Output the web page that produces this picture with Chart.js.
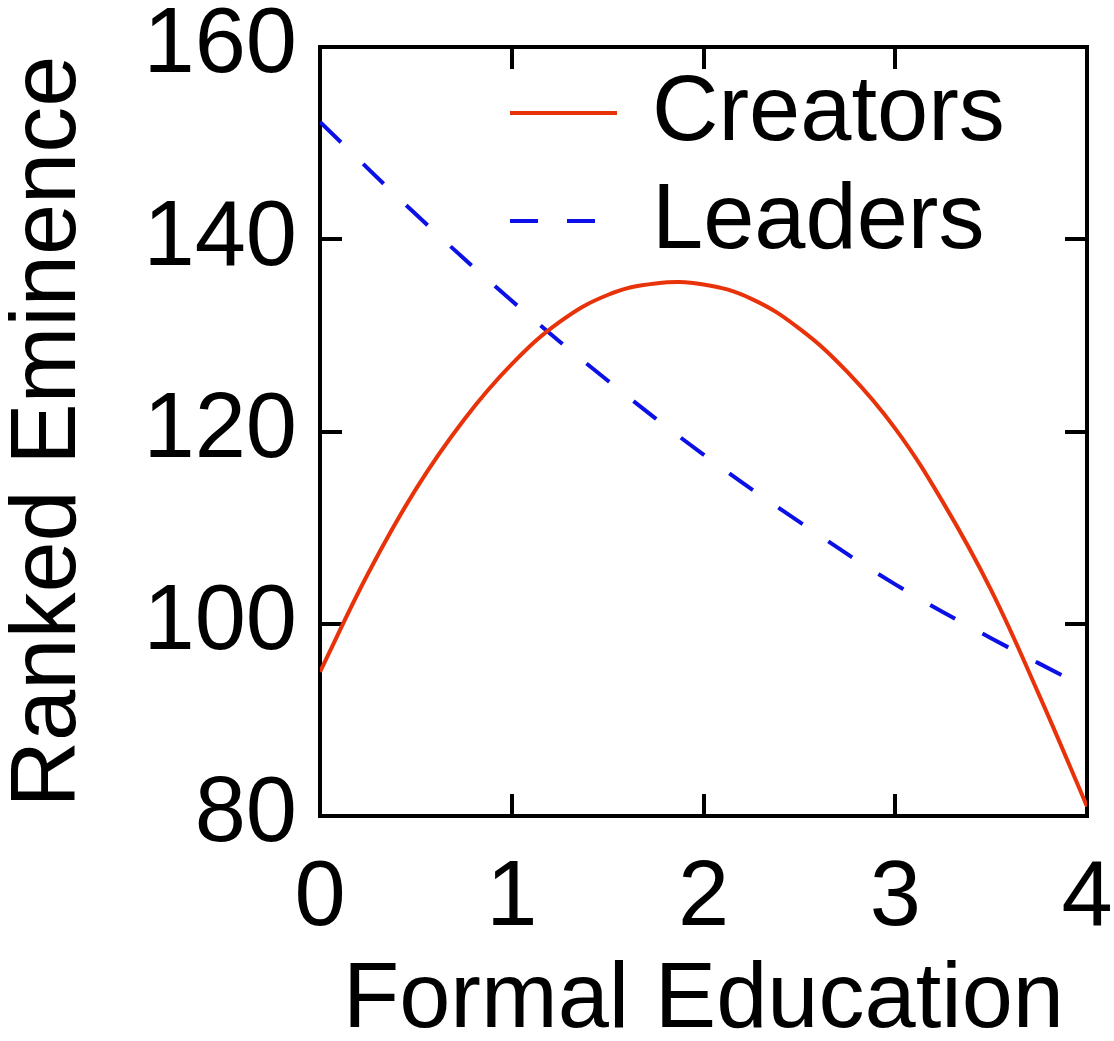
<!DOCTYPE html>
<html>
<head>
<meta charset="utf-8">
<script src="https://cdn.jsdelivr.net/npm/chart.js@4.4.1/dist/chart.umd.min.js"></script>
<style>
  html, body { margin: 0; padding: 0; background: #fff; }
  canvas { display: block; }
</style>
</head>
<body>
<canvas id="eduChart" width="1114" height="1041"></canvas>
<script>
// values
const educationCreators = [0, 0.25, 0.5, 0.75, 1, 1.25, 1.5, 1.75, 2, 2.25, 2.5, 2.75, 3, 3.25, 3.5, 3.75, 4];
const creatorsEminence = [95.0, 105.2, 114.0, 121.2, 127.0, 131.4, 134.2, 135.4, 135.3, 133.8, 130.7, 126.2, 120.3, 112.6, 103.5, 92.6, 81.0];
const educationLeaders = [0, 0.5, 1, 1.5, 2, 2.5, 3, 3.5, 4];
const leadersEminence = [152.2, 142.6, 133.6, 125.3, 117.6, 110.6, 104.1, 98.5, 93.3];
const xTicks = [0, 1, 2, 3, 4];
const yTicks = [80, 100, 120, 140, 160];

const FONT = "'Liberation Sans', Arial, Helvetica, sans-serif";
const RED = "#e8330a";
const BLUE = "#0a10e6";

Chart.defaults.font.family = FONT;
Chart.defaults.color = "#000";

const toPoints = (xs, ys) => xs.map((x, i) => ({ x, y: ys[i] }));

// legend drawn inside the plot, top right
const insideLegend = {
  id: "insideLegend",
  afterDatasetsDraw(chart) {
    const ctx = chart.ctx;
    const rows = [113, 221];
    chart.data.datasets.forEach((ds, i) => {
      const y = rows[i];
      ctx.save();
      ctx.strokeStyle = ds.borderColor;
      ctx.lineWidth = ds.borderWidth;
      ctx.setLineDash(ds.legendDash || []);
      ctx.beginPath();
      ctx.moveTo(510, y);
      ctx.lineTo(617, y);
      ctx.stroke();
      ctx.setLineDash([]);
      ctx.fillStyle = "#000";
      ctx.font = "92px " + FONT;
      ctx.textBaseline = "middle";
      ctx.textAlign = "left";
      ctx.fillText(ds.label, 652, y + 2);
      ctx.restore();
    });
  }
};

const frameGrid = { drawOnChartArea: false, drawTicks: true, tickLength: -22, lineWidth: 4, color: "#000" };
const frameBorder = { display: true, width: 4, color: "#000" };

// fix box size and drop the label overhang padding so the plot area stays put
const fixBox = (w, h) => s => {
  if (w != null) s.width = w;
  if (h != null) s.height = h;
  s.paddingLeft = s.paddingRight = s.paddingTop = s.paddingBottom = 0;
};

new Chart(document.getElementById("eduChart").getContext("2d"), {
  type: "line",
  data: {
    datasets: [{
      label: "Creators",
      data: toPoints(educationCreators, creatorsEminence),
      borderColor: RED,
      borderWidth: 4,
      pointRadius: 0,
      tension: 0.4,
      fill: false
    }, {
      label: "Leaders",
      data: toPoints(educationLeaders, leadersEminence),
      borderColor: BLUE,
      borderWidth: 4,
      borderDash: [29, 31],
      legendDash: [28, 29],
      pointRadius: 0,
      tension: 0.4,
      fill: false
    }]
  },
  options: {
    responsive: false,
    animation: false,
    devicePixelRatio: 1,
    layout: { padding: 0 },
    plugins: { legend: { display: false }, tooltip: { enabled: false } },
    scales: {
      x: {
        type: "linear", position: "bottom", min: 0, max: 4,
        afterBuildTicks: s => { s.ticks = xTicks.map(v => ({ value: v })); },
        ticks: { font: { size: 92, lineHeight: 1 }, padding: 60, maxRotation: 0, autoSkip: false },
        grid: frameGrid, border: frameBorder,
        title: { display: true, text: "Formal Education", font: { size: 92, lineHeight: 0.8 }, padding: { top: 0, bottom: 3 } },
        afterFit: fixBox(null, 225)
      },
      xTop: {
        type: "linear", position: "top", min: 0, max: 4,
        afterBuildTicks: s => { s.ticks = xTicks.map(v => ({ value: v })); },
        ticks: { display: false },
        grid: frameGrid, border: frameBorder,
        afterFit: fixBox(null, 47)
      },
      y: {
        type: "linear", position: "left", min: 80, max: 160,
        afterBuildTicks: s => { s.ticks = yTicks.map(v => ({ value: v })); },
        ticks: { font: { size: 92, lineHeight: 1 }, padding: 45, autoSkip: false },
        grid: frameGrid, border: frameBorder,
        title: { display: true, text: "Ranked Eminence", font: { size: 92, lineHeight: 1 }, padding: { top: 4, bottom: 0 } },
        afterFit: fixBox(320, null)
      },
      yRight: {
        type: "linear", position: "right", min: 80, max: 160,
        afterBuildTicks: s => { s.ticks = yTicks.map(v => ({ value: v })); },
        ticks: { display: false },
        grid: frameGrid, border: frameBorder,
        afterFit: fixBox(27, null)
      }
    }
  },
  plugins: [insideLegend]
});
</script>
</body>
</html>
